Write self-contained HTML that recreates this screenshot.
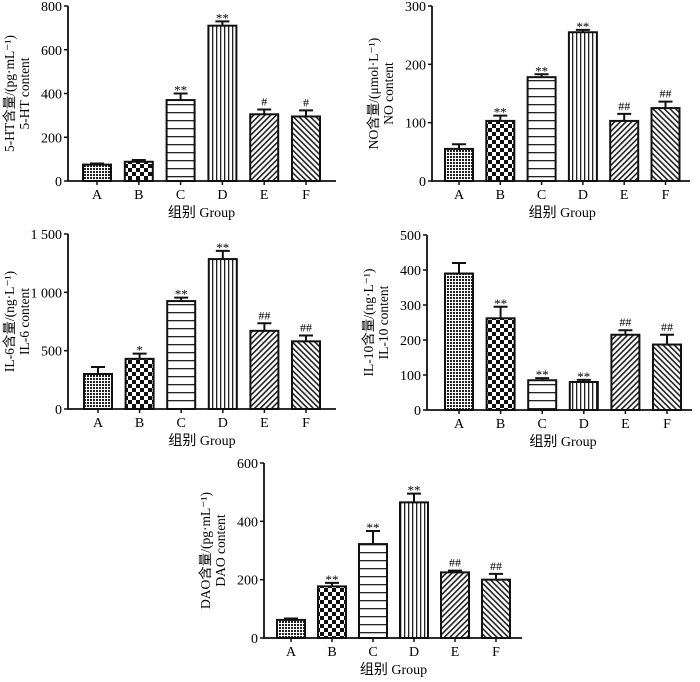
<!DOCTYPE html>
<html><head><meta charset="utf-8">
<style>
body{margin:0;background:#fff;}
svg{display:block;font-family:"Liberation Serif","Noto Serif CJK SC",serif;}
</style></head>
<body>
<svg id="c" width="700" height="682" viewBox="0 0 700 682">
<defs>
<pattern id="pA" width="3" height="3" patternUnits="userSpaceOnUse"><rect width="3" height="3" fill="#fff"/><rect width="2" height="2" fill="#222"/></pattern>
<pattern id="pB" width="8" height="8" patternUnits="userSpaceOnUse"><rect width="8" height="8" fill="#fff"/><rect width="4" height="4" fill="#111"/><rect x="4" y="4" width="4" height="4" fill="#111"/></pattern>
<pattern id="pC" width="6" height="8" patternUnits="userSpaceOnUse"><rect width="6" height="8" fill="#fff"/><rect y="0" width="6" height="1.3" fill="#222"/></pattern>
<pattern id="pD" width="4" height="6" patternUnits="userSpaceOnUse"><rect width="4" height="6" fill="#fff"/><rect x="0" width="1.3" height="6" fill="#222"/></pattern>
<pattern id="pE" width="4" height="4" patternUnits="userSpaceOnUse" patternTransform="rotate(45)"><rect width="4" height="4" fill="#fff"/><rect width="1.6" height="4" fill="#222"/></pattern>
<pattern id="pF" width="4" height="4" patternUnits="userSpaceOnUse" patternTransform="rotate(-45)"><rect width="4" height="4" fill="#fff"/><rect width="1.6" height="4" fill="#222"/></pattern>
</defs>
</svg>
<script>
const categories=["A","B","C","D","E","F"];
const htValues=[75,88,370,710,305,295];
const htErrors=[5,8,30,20,22,28];
const htMarks=["","","**","**","#","#"];
const htTicks=["0","200","400","600","800"];
const noValues=[55,103,178,255,103,125];
const noErrors=[8,9,5,4,12,11];
const noMarks=["","**","**","**","##","##"];
const noTicks=["0","100","200","300"];
const il6Values=[300,430,925,1285,670,580];
const il6Errors=[60,45,30,70,65,50];
const il6Marks=["","*","**","**","##","##"];
const il6Ticks=["0","500","1 000","1 500"];
const il10Values=[390,262,85,80,215,187];
const il10Errors=[30,33,6,6,13,28];
const il10Marks=["","**","**","**","##","##"];
const il10Ticks=["0","100","200","300","400","500"];
const daoValues=[62,177,322,465,225,200];
const daoErrors=[5,12,45,30,6,20];
const daoMarks=["","**","**","**","##","##"];
const daoTicks=["0","200","400","600"];

const NS="http://www.w3.org/2000/svg";
const svg=document.getElementById('c');
function mk(tag,attrs,parent){const e=document.createElementNS(NS,tag);for(const k in attrs)e.setAttribute(k,attrs[k]);(parent||svg).appendChild(e);return e;}
const pats=["pA","pB","pC","pD","pE","pF"];

function panel(id,cfg,values,errors,marks,ticks){
  const g=mk('g',{});
  
  
  const max=parseFloat(ticks[ticks.length-1].replace(/ /g,''));
  const y=v=>cfg.y0-(v/max)*(cfg.y0-cfg.yTop);
  const x=i=>cfg.x0+cfg.step*(i)+cfg.first;
  values.forEach((v,i)=>{
    const bw=28,cx=x(i);
    const r=mk('rect',{x:cx-bw/2,y:y(v),width:bw,height:cfg.y0-y(v),fill:'url(#'+pats[i]+')',stroke:'#111','stroke-width':2},g);
    
    
    const et=y(v+errors[i]);
    const el=mk('path',{d:`M${cx} ${y(v)}V${et}M${cx-7} ${et}H${cx+7}`,stroke:'#111','stroke-width':2,fill:'none'},g);
    
    
    if(marks[i]){
      const star=marks[i][0]=='*';
      const t=mk('text',{x:cx,y:star?et+1:et-4,'text-anchor':'middle','font-size':star?13:12},g);
      t.textContent=marks[i];
      
      
    }
    mk('line',{x1:cx,x2:cx,y1:cfg.y0,y2:cfg.y0+4,stroke:'#111','stroke-width':1.5},g);
    const lb=mk('text',{x:cx,y:cfg.y0+18,'text-anchor':'middle','font-size':14},g);
    lb.textContent=categories[i];
    
    
  });
  const ax=mk('path',{d:`M${cfg.x0} ${cfg.yTop}V${cfg.y0}H${cfg.xEnd}`,stroke:'#111','stroke-width':1.8,fill:'none'},g);
  
  
  ticks.forEach(t=>{
    const v=parseFloat(t.replace(/ /g,''));
    mk('line',{x1:cfg.x0-4,x2:cfg.x0,y1:y(v),y2:y(v),stroke:'#111','stroke-width':1.5},g);
    const tl=mk('text',{x:cfg.x0-6,y:y(v)+5,'text-anchor':'end','font-size':14},g);
    tl.textContent=t;
    
    
  });
  const xt=mk('text',{x:(x(0)+x(5))/2,y:cfg.y0+36,'text-anchor':'middle','font-size':14,'font-family':'"Liberation Serif","Noto Sans CJK SC",serif'},g);
  xt.textContent='组别 Group';
  
  
  const cy=(cfg.y0+cfg.yTop)/2;
  const yt=mk('text',{transform:`translate(${cfg.x0-54},${cy}) rotate(-90)`,'text-anchor':'middle','font-size':13.5,'font-family':'"Liberation Serif","Noto Sans CJK SC",serif'},g);
  yt.textContent=cfg.l1;
  
  
  const yt2=mk('text',{transform:`translate(${cfg.x0-39},${cy}) rotate(-90)`,'text-anchor':'middle','font-size':13.5},g);
  yt2.textContent=cfg.l2;
  
  
}
panel('5ht',{x0:68,xEnd:336,y0:181,yTop:6,first:29,step:41.8,l1:'5-HT含量/(pg·mL⁻¹)',l2:'5-HT content'},htValues,htErrors,htMarks,htTicks);
panel('no',{x0:432,xEnd:690,y0:181,yTop:6,first:27,step:41.3,l1:'NO含量/(μmol·L⁻¹)',l2:'NO content'},noValues,noErrors,noMarks,noTicks);
panel('il6',{x0:68,xEnd:336,y0:409,yTop:234,first:30,step:41.6,l1:'IL-6含量/(ng·L⁻¹)',l2:'IL-6 content'},il6Values,il6Errors,il6Marks,il6Ticks);
panel('il10',{x0:427,xEnd:692,y0:410,yTop:235,first:32,step:41.6,l1:'IL-10含量/(ng·L⁻¹)',l2:'IL-10 content'},il10Values,il10Errors,il10Marks,il10Ticks);
panel('dao',{x0:264,xEnd:522,y0:638,yTop:463,first:27,step:41,l1:'DAO含量/(pg·mL⁻¹)',l2:'DAO content'},daoValues,daoErrors,daoMarks,daoTicks);
</script>
</body></html>
